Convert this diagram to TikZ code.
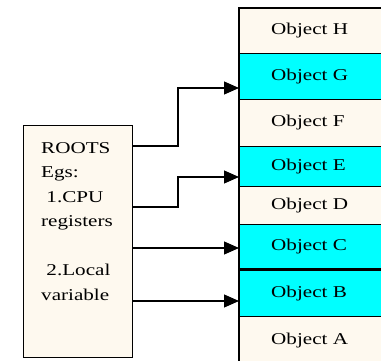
\documentclass[tikz,border=0pt]{standalone}
\usepackage{fontspec}
\setmainfont{Liberation Serif}[FakeStretch=1.28]
\usetikzlibrary{arrows.meta}
\definecolor{cream}{RGB}{254,249,239}
\definecolor{objcyan}{RGB}{0,255,255}
\tikzset{
  objrow/.style={draw=none, anchor=north west, minimum width=250pt,
    text width=186pt, inner xsep=32pt, inner ysep=0pt, align=left,
    font=\fontsize{16.5}{19}\selectfont},
  light/.style={objrow, fill=cream},
  dark/.style={objrow, fill=objcyan},
  edge/.style={draw=black, line width=1.3pt},
  conn/.style={draw=black, line width=1.2pt, -{Triangle[length=15pt,width=13pt]}},
}
\begin{document}
\begin{tikzpicture}[x=1pt,y=-1pt]
\useasboundingbox (0,0) rectangle (381,360);
\fill[white] (0,0) rectangle (381,360);
% object column
\node[light, minimum height=45pt] (H) at (239,8) {Object H};
\node[dark,  minimum height=46pt] (G) at (239,53) {Object G};
\node[light, minimum height=47pt] (F) at (239,99) {Object F};
\node[dark,  minimum height=40pt] (E) at (239,146) {Object E};
\node[light, minimum height=38pt] (D) at (239,186) {Object D};
\node[dark,  minimum height=44.5pt] (C) at (239,224) {Object C};
\node[dark,  minimum height=46pt] (B) at (239,270) {Object B};
\node[light, minimum height=60pt, text depth=14pt] (A) at (239,316) {Object A};
\draw[edge] (H.north east) -- (H.north west) -- (A.south west);
\foreach \r in {H,G,F,E,D,C,B} { \draw[edge] (\r.south west) -- (\r.south east); }
\draw[edge] (B.north west) -- (B.north east);
% roots box
\node[draw=black, line width=1.3pt, fill=cream, anchor=north west,
      minimum width=109pt, minimum height=232pt] (roots) at (23,125) {};
\node[anchor=north west, align=left, inner sep=0pt,
      font=\fontsize{16.5}{24.5}\selectfont] (rtext) at (41,142)
  {ROOTS\\Egs:\\\ 1.CPU\\registers\\[24.5pt]\ 2.Local\\variable};
% connectors
\draw[conn] (roots.east |- 0,146) -| (178,117) |- (G.west |- 0,88);
\draw[conn] (roots.east |- 0,207) -| (178,190) |- (E.west |- 0,177);
\draw[conn] (roots.east |- 0,248) -- (C.west |- 0,248);
\draw[conn] (roots.east |- 0,301) -- (B.west |- 0,301);
\end{tikzpicture}
\end{document}
